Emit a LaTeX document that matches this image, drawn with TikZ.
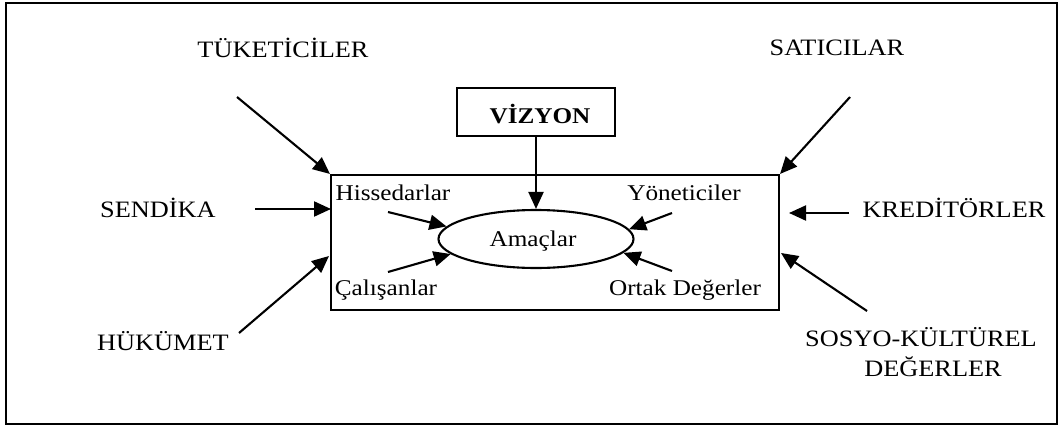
\documentclass[tikz,border=0pt]{standalone}
\usepackage{fontspec}
\setmainfont{Liberation Serif}[FakeStretch=1.12]
\usetikzlibrary{arrows.meta,shapes.geometric}
\begin{document}
\begin{tikzpicture}[x=1pt,y=-1pt,
  lbl/.style={inner sep=0pt, font=\fontsize{23.5}{30}\selectfont},
  inlbl/.style={inner sep=0pt, font=\fontsize{22.5}{28}\selectfont},
  arr/.style={line width=2.1pt, -{Triangle[length=17pt,width=15pt]}},
  frame/.style={draw, line width=2.1pt, inner sep=0pt}]
\useasboundingbox (0,0) rectangle (1062,428);
% outer border
\draw[line width=1.4pt] (6,3) rectangle (1057,424);

% organisation box and goals
\node[frame, minimum width=448pt, minimum height=135pt] (org) at (555,242.5) {};
\node[frame, ellipse, minimum width=195pt, minimum height=58pt] (amac) at (536,239) {};
\node[inlbl] (amactxt) at (533,241) {Amaçlar};
\node[frame, minimum width=158pt, minimum height=48pt] (viz) at (536,112) {};
\node[inner sep=0pt, font=\fontsize{22.5}{26}\selectfont\bfseries] (viztxt) at (540,114) {VİZYON};

% inner stakeholders
\node[inlbl] (hisse) at (393,193) {Hissedarlar};
\node[inlbl] (yonet) at (684,193) {Yöneticiler};
\node[inlbl] (calis) at (386,290) {Çalışanlar};
\node[inlbl] (ortak) at (685,290) {Ortak Değerler};

% outer environment
\node[lbl] (tuket) at (283,48) {TÜKETİCİLER};
\node[lbl] (satici) at (837,48) {SATICILAR};
\node[lbl] (sendika) at (158,208) {SENDİKA};
\node[lbl] (hukumet) at (163,341) {HÜKÜMET};
\node[lbl] (kredi) at (954,208) {KREDİTÖRLER};
\node[lbl, align=center] (sosyo) at (921,352) {SOSYO-KÜLTÜREL\\\hspace*{24pt}DEĞERLER};

% arrow ends
\coordinate (tuketA) at (237,97);
\coordinate (saticiA) at (850,97);
\coordinate (sendikaA) at (255,209);
\coordinate (sendikaB) at (331,209);
\coordinate (hukumetA) at (239,333);
\coordinate (hukumetB) at (329,256);
\coordinate (krediA) at (849,213);
\coordinate (krediB) at (789,213);
\coordinate (sosyoA) at (867,311);
\coordinate (sosyoB) at (781,253);
\coordinate (hisseA) at (388,212);
\coordinate (calisA) at (388,272);
\coordinate (yonetA) at (672,213);
\coordinate (ortakA) at (672,271);

% connectors
\draw[arr] (viz.south) -- (amac.north);
\draw[arr] (tuketA) -- (org.north west);
\draw[arr] (saticiA) -- (org.north east);
\draw[arr] (sendikaA) -- (sendikaB);
\draw[arr] (hukumetA) -- (hukumetB);
\draw[arr] (krediA) -- (krediB);
\draw[arr] (sosyoA) -- (sosyoB);
\draw[arr] (hisseA) -- (amac.172);
\draw[arr] (calisA) -- (amac.190);
\draw[arr] (yonetA) -- (amac.6);
\draw[arr] (ortakA) -- (amac.-9);
\end{tikzpicture}
\end{document}
